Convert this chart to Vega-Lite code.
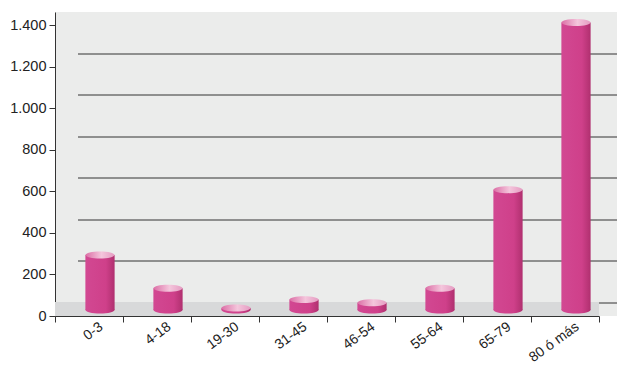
{
  "$schema": "https://vega.github.io/schema/vega-lite/v6.json",
  "width": 562,
  "height": 304,
  "autosize": {"type": "none"},
  "padding": {"left": 55, "top": 12, "right": 0, "bottom": 51},
  "background": "white",
  "config": {
    "view": {"fill": "#ebeceb", "stroke": null},
    "font": "Liberation Sans"
  },
  "data": {
    "values": [
      {"grupo": "0-3", "valor": 265},
      {"grupo": "4-18", "valor": 105},
      {"grupo": "19-30", "valor": 10},
      {"grupo": "31-45", "valor": 50},
      {"grupo": "46-54", "valor": 35},
      {"grupo": "55-64", "valor": 105},
      {"grupo": "65-79", "valor": 580},
      {"grupo": "80 ó más", "valor": 1385}
    ]
  },
  "encoding": {
    "x": {
      "field": "grupo",
      "type": "nominal",
      "sort": null,
      "scale": {"paddingInner": 0, "paddingOuter": 0, "range": [0, 544]},
      "axis": {
        "title": null,
        "tickBand": "extent",
        "tickSize": 6,
        "tickColor": "#333",
        "domainColor": "#333",
        "labelAngle": -36,
        "labelAlign": "right",
        "labelBaseline": "middle",
        "labelFontSize": 14,
        "labelColor": "#222",
        "labelOffset": 12,
        "labelPadding": 3,
        "grid": false
      }
    }
  },
  "layer": [
    {
      "layer": [
        {
          "mark": {"type": "rect", "fill": "#d8d9da", "yOffset": -14},
          "encoding": {
            "y": {"datum": 0, "type": "quantitative", "scale": {"domain": [0, 1465], "nice": false}, "axis": {
              "title": null,
              "values": [0, 200, 400, 600, 800, 1000, 1200, 1400],
              "labelExpr": "replace(format(datum.value, ','), ',', '.')",
              "grid": false,
              "tickSize": 6,
              "tickColor": "#333",
              "domainColor": "#333",
              "labelFontSize": 14.5,
              "labelColor": "#222",
              "labelPadding": 3
            }},
            "y2": {"datum": 0}
          }
        },
        {
          "mark": {
            "type": "bar",
            "width": {"band": 0.43},
            "xOffset": 11,
            "yOffset": -6,
            "y2Offset": -6,
            "color": {
              "gradient": "linear", "x1": 0, "y1": 0, "x2": 1, "y2": 0,
              "stops": [
                {"offset": 0, "color": "#d24892"},
                {"offset": 0.7, "color": "#cf408a"},
                {"offset": 1, "color": "#b0306f"}
              ]
            }
          },
          "encoding": {
            "y": {"field": "valor", "type": "quantitative"}
          }
        },
        {
          "mark": {
            "type": "point",
            "filled": true,
            "shape": "M-1,0A1,0.24,0,1,0,1,0A1,0.24,0,1,0,-1,0Z",
            "size": 841,
            "xOffset": 11,
            "yOffset": -6,
            "opacity": 1,
            "color": {
              "gradient": "linear", "x1": 0, "y1": 0, "x2": 1, "y2": 0,
              "stops": [
                {"offset": 0, "color": "#d24892"},
                {"offset": 0.7, "color": "#cf408a"},
                {"offset": 1, "color": "#b0306f"}
              ]
            }
          },
          "encoding": {
            "y": {"datum": 0, "type": "quantitative"}
          }
        },
        {
          "mark": {
            "type": "point",
            "filled": true,
            "shape": "M-1,0A1,0.24,0,1,0,1,0A1,0.24,0,1,0,-1,0Z",
            "size": 841,
            "xOffset": 11,
            "yOffset": -6,
            "opacity": 1,
            "color": {
              "gradient": "linear", "x1": 0, "y1": 0, "x2": 1, "y2": 0,
              "stops": [
                {"offset": 0, "color": "#dc6fa6"},
                {"offset": 0.55, "color": "#f4c6dc"},
                {"offset": 1, "color": "#e59cc2"}
              ]
            }
          },
          "encoding": {
            "y": {"field": "valor", "type": "quantitative"}
          }
        }
      ]
    },
    {
      "mark": {"type": "point", "opacity": 0},
      "encoding": {
        "y": {"datum": 0, "type": "quantitative", "scale": {"domain": [-86.74, 1378.26], "nice": false, "zero": false}, "axis": {
          "title": null,
          "values": [0, 200, 400, 600, 800, 1000, 1200],
          "grid": true,
          "gridColor": "#333",
          "gridOpacity": 1,
          "gridWidth": 1,
          "labels": false,
          "ticks": false,
          "domain": false,
          "translate": 5,
          "zindex": 0
        }}
      }
    }
  ],
  "resolve": {"scale": {"y": "independent"}, "axis": {"y": "independent"}}
}
